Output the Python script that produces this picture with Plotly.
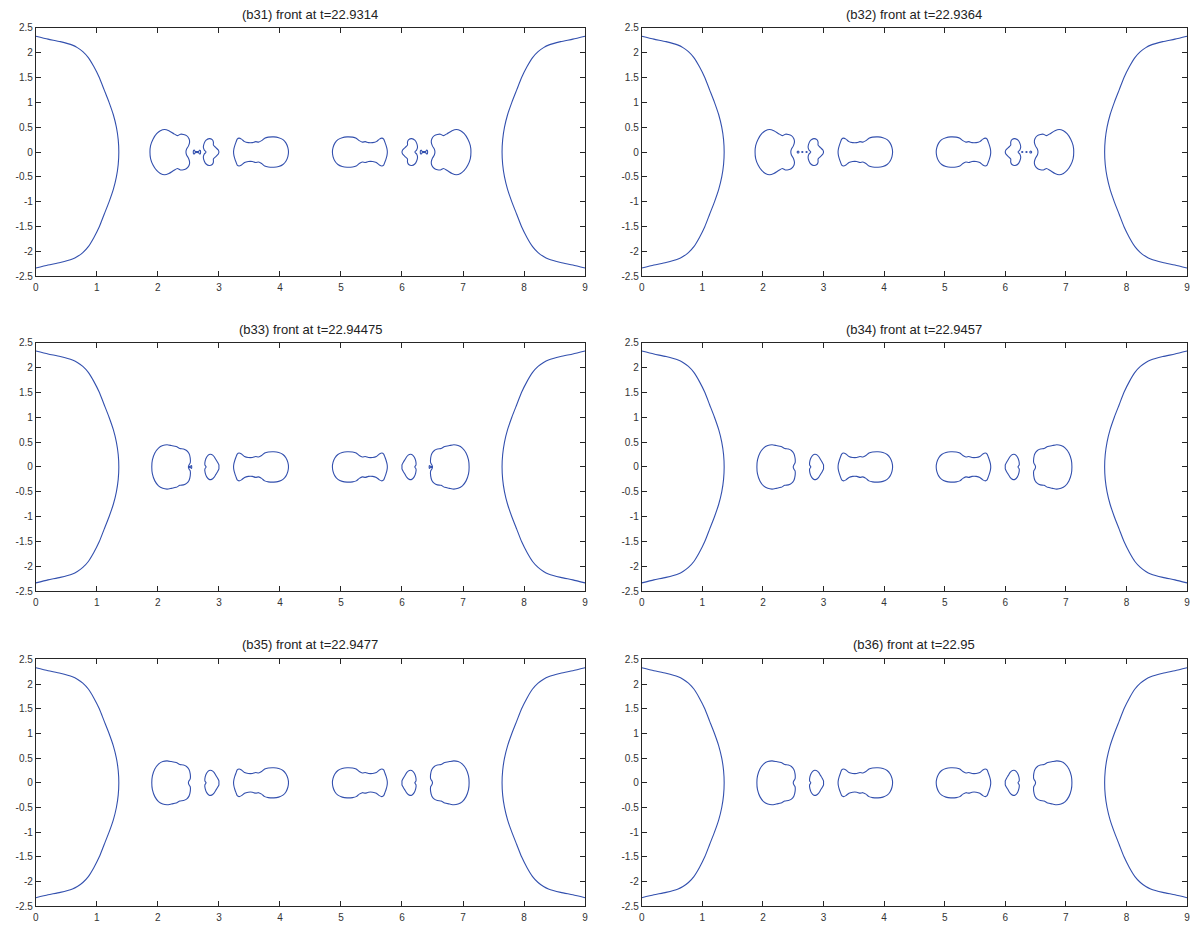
import plotly.graph_objects as go

W, H = 1195, 926

TITLES = [
    "(b31) front at t=22.9314",
    "(b32) front at t=22.9364",
    "(b33) front at t=22.94475",
    "(b34) front at t=22.9457",
    "(b35) front at t=22.9477",
    "(b36) front at t=22.95",
]

X_TICKS = [0, 1, 2, 3, 4, 5, 6, 7, 8, 9]
Y_TICKS = [-2.5, -2, -1.5, -1, -0.5, 0, 0.5, 1, 1.5, 2, 2.5]
Y_TICK_LABELS = ["-2.5", "-2", "-1.5", "-1", "-0.5", "0", "0.5", "1", "1.5", "2", "2.5"]
X_MIRROR = 9  # domain length, the fronts are symmetric about x = 4.5

# upper halves of the contour lines (y >= 0)
FRONT_X = [1.36, 1.35, 1.32, 1.27, 1.20, 1.12, 1.04, 0.95, 0.86, 0.77, 0.68, 0.60, 0.40, 0.20, 0.0]
FRONT_Y = [0.0, 0.25, 0.5, 0.75, 1.0, 1.25, 1.5, 1.72, 1.9, 2.02, 2.1, 2.15, 2.22, 2.27, 2.33]

A_EARLY_X = [1.87, 1.88, 1.92, 1.98, 2.04, 2.11, 2.18, 2.26, 2.32, 2.37, 2.42, 2.47, 2.51, 2.52, 2.50, 2.47, 2.46]
A_EARLY_Y = [0.0, 0.13, 0.26, 0.37, 0.43, 0.455, 0.43, 0.37, 0.33, 0.36, 0.355, 0.33, 0.27, 0.2, 0.12, 0.06, 0.0]

A_LATE_X = [1.90, 1.91, 1.95, 2.01, 2.08, 2.15, 2.22, 2.30, 2.36, 2.42, 2.47, 2.51, 2.53, 2.53, 2.51, 2.50]
A_LATE_Y = [0.0, 0.14, 0.28, 0.38, 0.43, 0.445, 0.43, 0.41, 0.37, 0.36, 0.33, 0.27, 0.18, 0.08, 0.04, 0.0]

B_EARLY_X = [2.79, 2.76, 2.745, 2.76, 2.79, 2.84, 2.89, 2.91, 2.91, 2.95, 2.99, 3.0]
B_EARLY_Y = [0.0, 0.04, 0.1, 0.18, 0.24, 0.27, 0.25, 0.2, 0.14, 0.09, 0.04, 0.0]

B_LATE_X = [2.79, 2.77, 2.775, 2.80, 2.84, 2.88, 2.92, 2.95, 2.98, 3.0, 3.0]
B_LATE_Y = [0.0, 0.04, 0.12, 0.2, 0.25, 0.25, 0.21, 0.15, 0.09, 0.04, 0.0]

C_X = [3.24, 3.245, 3.26, 3.28, 3.30, 3.33, 3.37, 3.42, 3.48, 3.55, 3.60, 3.65, 3.70, 3.75, 3.81, 3.90, 3.98, 4.05, 4.10, 4.13, 4.14]
C_Y = [0.0, 0.06, 0.13, 0.2, 0.26, 0.28, 0.26, 0.21, 0.19, 0.19, 0.21, 0.2, 0.23, 0.28, 0.30, 0.305, 0.29, 0.25, 0.18, 0.09, 0.0]

NECK_B31_X = [2.58, 2.585, 2.60, 2.61, 2.67, 2.68, 2.695, 2.70]
NECK_B31_Y = [0.0, 0.035, 0.035, 0.012, 0.012, 0.035, 0.035, 0.0]

DOT1_B32_X = [2.565, 2.57, 2.58, 2.59, 2.595]
DOT1_B32_Y = [0.0, 0.016, 0.02, 0.016, 0.0]
DOT2_B32_X = [2.64, 2.65, 2.66]
DOT2_B32_Y = [0.0, 0.01, 0.0]
DOT3_B32_X = [2.71, 2.72, 2.73]
DOT3_B32_Y = [0.0, 0.01, 0.0]

TICK_B33_X = [2.50, 2.51, 2.53, 2.55, 2.555]
TICK_B33_Y = [0.0, 0.008, 0.008, 0.03, 0.0]

SHAPES = {
    "A_early": (A_EARLY_X, A_EARLY_Y),
    "A_late": (A_LATE_X, A_LATE_Y),
    "B_early": (B_EARLY_X, B_EARLY_Y),
    "B_late": (B_LATE_X, B_LATE_Y),
    "C": (C_X, C_Y),
    "neck31": (NECK_B31_X, NECK_B31_Y),
    "dot1": (DOT1_B32_X, DOT1_B32_Y),
    "dot2": (DOT2_B32_X, DOT2_B32_Y),
    "dot3": (DOT3_B32_X, DOT3_B32_Y),
    "tick33": (TICK_B33_X, TICK_B33_Y),
}

PANEL_SHAPES = [
    ["A_early", "B_early", "C", "neck31"],
    ["A_early", "B_early", "C", "dot1", "dot2", "dot3"],
    ["A_late", "B_late", "C", "tick33"],
    ["A_late", "B_late", "C"],
    ["A_late", "B_late", "C"],
    ["A_late", "B_late", "C"],
]

LINE_COLOR = "#3350ae"
AXIS_COLOR = "#262626"

# panel boxes in pixels: (left, right) columns and (top, bottom) rows
COLS = [(33, 585), (642, 1190)]
ROWS = [(22, 274), (341, 593), (662, 912)]
TITLE_Y = [9, 328, 647]


def closed(ux, uy):
    xs = list(ux) + list(reversed(ux))[1:]
    ys = list(uy) + [-v for v in reversed(uy)][1:]
    return xs, ys


def front(ux, uy):
    xs = list(reversed(ux)) + list(ux)[1:]
    ys = list(reversed(uy)) + [-v for v in uy][1:]
    return xs, ys


fig = go.Figure()
annotations = []

for i, title in enumerate(TITLES):
    r, c = divmod(i, 2)
    xa = "x" if i == 0 else f"x{i+1}"
    ya = "y" if i == 0 else f"y{i+1}"
    allx, ally = [], []
    fx, fy = front(FRONT_X, FRONT_Y)
    for side in (0, 1):
        xs = fx if side == 0 else [X_MIRROR - v for v in fx]
        allx += xs + [None]
        ally += fy + [None]
    for name in PANEL_SHAPES[i]:
        ux, uy = SHAPES[name]
        cx, cy = closed(ux, uy)
        for side in (0, 1):
            xs = cx if side == 0 else [X_MIRROR - v for v in cx]
            allx += xs + [None]
            ally += cy + [None]
    fig.add_trace(go.Scatter(
        x=allx, y=ally, mode="lines", xaxis=xa, yaxis=ya,
        line=dict(color=LINE_COLOR, width=1.1, shape="spline", smoothing=0.6),
        connectgaps=False, showlegend=False, hoverinfo="skip",
    ))
    x0, x1 = COLS[c]
    y0, y1 = ROWS[r]
    axis_common = dict(
        showline=True, linecolor=AXIS_COLOR, linewidth=1, mirror="allticks",
        ticks="inside", ticklen=5, tickwidth=1, tickcolor=AXIS_COLOR,
        showgrid=False, zeroline=False,
        tickfont=dict(family="Liberation Sans, Arial, sans-serif", size=10, color="#333333"),
    )
    fig.update_layout(**{
        ("xaxis" if i == 0 else f"xaxis{i+1}"): dict(
            domain=[x0 / W, x1 / W], range=[0, 9], anchor=ya,
            tickvals=X_TICKS, ticktext=[str(v) for v in X_TICKS],
            ticklabelstandoff=2, **axis_common),
        ("yaxis" if i == 0 else f"yaxis{i+1}"): dict(
            domain=[1 - y1 / H, 1 - y0 / H], range=[-2.5, 2.5], anchor=xa,
            tickvals=Y_TICKS, ticktext=Y_TICK_LABELS, **axis_common),
    })
    annotations.append(dict(
        text=title, xref="paper", yref="paper",
        x=(x0 + x1) / 2 / W, y=1 - TITLE_Y[r] / H,
        xanchor="center", yanchor="middle", showarrow=False,
        font=dict(family="Liberation Sans, Arial, sans-serif", size=13, color="#222222"),
    ))

fig.update_layout(
    width=W, height=H, margin=dict(l=0, r=0, t=0, b=0),
    paper_bgcolor="white", plot_bgcolor="white",
    annotations=annotations,
)

fig.write_html("out.html")
